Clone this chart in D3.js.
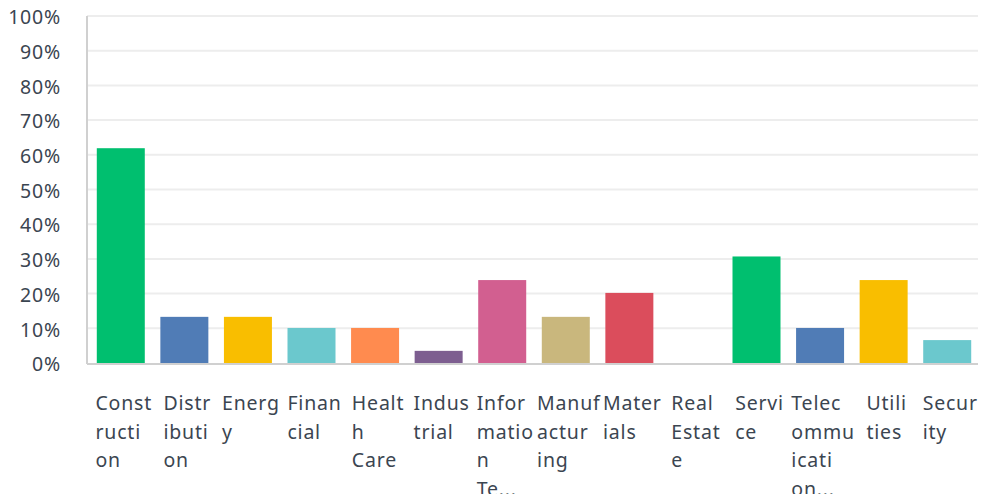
<!DOCTYPE html>
<html>
<head>
<meta charset="utf-8">
<script src="https://cdn.jsdelivr.net/npm/d3@7"></script>
<style>
  body { margin: 0; background: #fff; }
  text { font-family: "Noto Sans", "Open Sans", sans-serif; fill: #3b4551; letter-spacing: 0.8px; }
</style>
</head>
<body>
<div id="chart"></div>
<script>
// Categories, wrapped tick labels and values (% of respondents)
const categories = ["Construction", "Distribution", "Energy", "Financial", "Health Care", "Industrial",
  "Information Technology", "Manufacturing", "Materials", "Real Estate", "Service",
  "Telecommunication", "Utilities", "Security"];
const labelLines = [
  ["Const", "ructi", "on"], ["Distr", "ibuti", "on"], ["Energ", "y"], ["Finan", "cial"],
  ["Healt", "h", "Care"], ["Indus", "trial"], ["Infor", "matio", "n", "Te..."],
  ["Manuf", "actur", "ing"], ["Mater", "ials"], ["Real", "Estat", "e"], ["Servi", "ce"],
  ["Telec", "ommu", "icati", "on..."], ["Utili", "ties"], ["Secur", "ity"]
];
const values = [61.9, 13.3, 13.3, 10.1, 10.1, 3.5, 23.9, 13.3, 20.2, 0, 30.7, 10.1, 23.9, 6.6];
const colors = ["#00bf6f", "#507cb6", "#f9be00", "#6bc8cd", "#ff8b4f", "#7d5e90", "#d25f90",
  "#c9b77d", "#db4d5c", "#a3b8c8", "#00bf6f", "#507cb6", "#f9be00", "#6bc8cd"];
const yTicks = [0, 10, 20, 30, 40, 50, 60, 70, 80, 90, 100];

const width = 982, height = 494;
const plotL = 87, plotR = 978, plotT = 16, plotB = 363;

const svg = d3.select("#chart").append("svg")
  .attr("width", width).attr("height", height);

const x = d3.scaleBand()
  .domain(categories)
  .range([plotL + 2, plotR + 1])
  .paddingInner(0.245)
  .paddingOuter(0.1225);

const y = d3.scaleLinear().domain([0, 100]).range([plotB, plotT]);

// Gridlines
svg.append("g").selectAll("line")
  .data(yTicks.filter(d => d > 0))
  .join("line")
  .attr("x1", plotL).attr("x2", plotR)
  .attr("y1", d => y(d)).attr("y2", d => y(d))
  .attr("stroke", "#ededed")
  .attr("stroke-width", 2);

// Y tick labels
svg.append("g").selectAll("text")
  .data(yTicks)
  .join("text")
  .attr("x", 61)
  .attr("y", d => y(d) + 3)
  .attr("text-anchor", "end")
  .attr("dominant-baseline", "middle")
  .style("font-size", "19.5px")
  .text(d => d + "%");

// Bars
svg.append("g").selectAll("rect")
  .data(categories)
  .join("rect")
  .attr("x", d => x(d))
  .attr("width", x.bandwidth())
  .attr("y", (d, i) => y(values[i]))
  .attr("height", (d, i) => y(0) - y(values[i]))
  .attr("fill", (d, i) => colors[i]);

// Axis lines
svg.append("line")
  .attr("x1", plotL).attr("x2", plotL)
  .attr("y1", plotT).attr("y2", plotB + 1)
  .attr("stroke", "#d0d0d0").attr("stroke-width", 2);
svg.append("line")
  .attr("x1", plotL).attr("x2", plotR)
  .attr("y1", plotB + 1).attr("y2", plotB + 1)
  .attr("stroke", "#d0d0d0").attr("stroke-width", 2);

// X labels: lines left-aligned, block centred under its bar
const labels = svg.append("g").selectAll("text")
  .data(categories)
  .join("text")
  .style("font-size", "19.5px");

labels.each(function(d, i) {
  const t = d3.select(this);
  labelLines[i].forEach((line, j) => {
    t.append("tspan").attr("y", 410 + j * 28.5).text(line);
  });
  let w = 0;
  t.selectAll("tspan").each(function() { w = Math.max(w, this.getComputedTextLength()); });
  const x0 = x(d) + x.bandwidth() / 2 - w / 2 + 3;
  t.selectAll("tspan").attr("x", x0);
});
</script>
</body>
</html>
